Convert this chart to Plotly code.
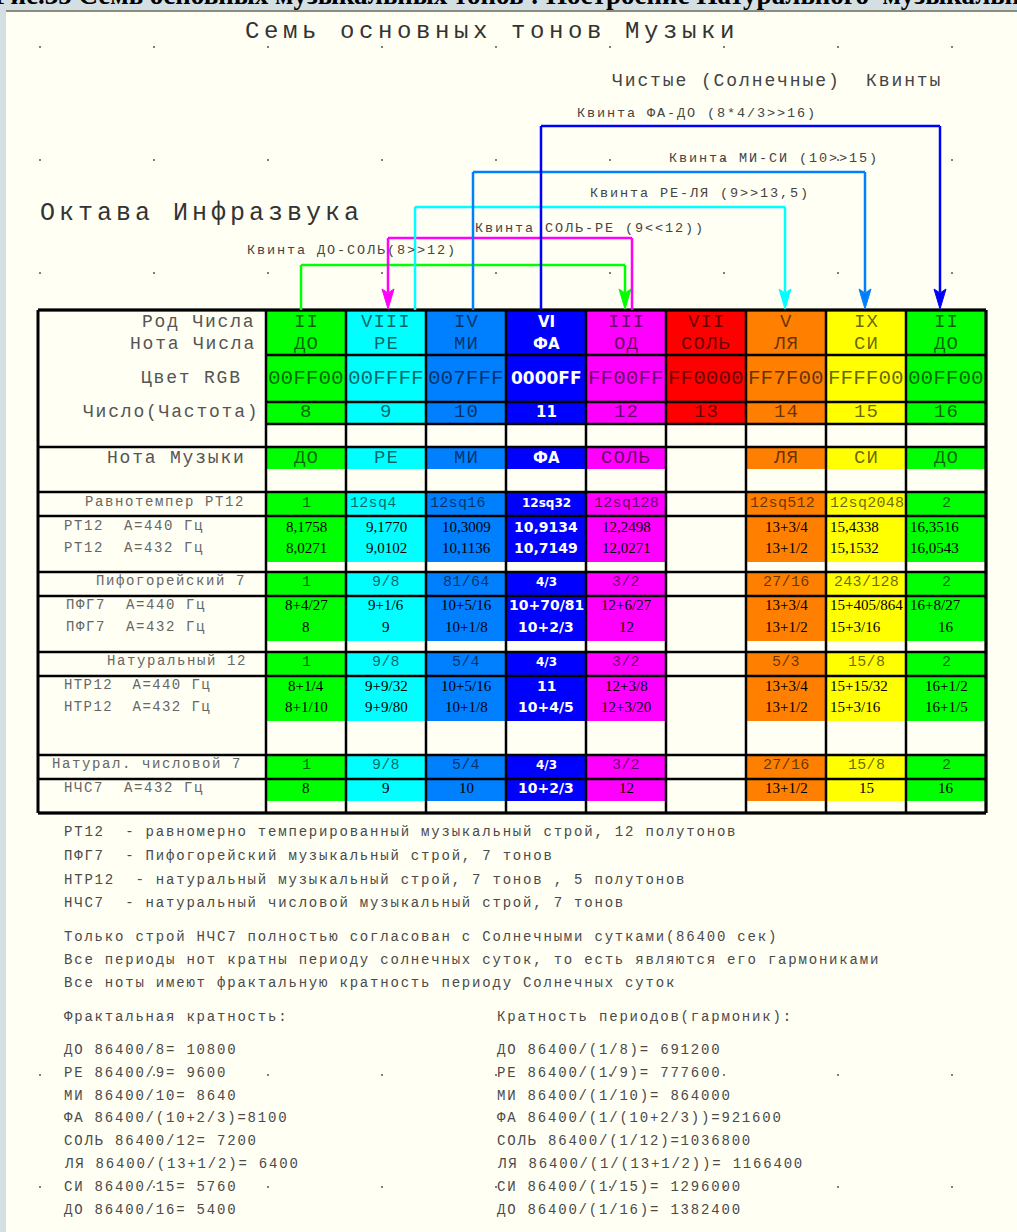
import plotly.graph_objects as go

# ---------------- data ----------------
roman_numerals = ["II", "VIII", "IV", "VI", "III", "VII", "V", "IX", "II"]
number_notes = ["ДО", "РЕ", "МИ", "ФА", "ОД", "СОЛЬ", "ЛЯ", "СИ", "ДО"]
rgb_codes = ["00FF00", "00FFFF", "007FFF", "0000FF", "FF00FF", "FF0000", "FF7F00", "FFFF00", "00FF00"]
frequencies = ["8", "9", "10", "11", "12", "13", "14", "15", "16"]
music_notes = ["ДО", "РЕ", "МИ", "ФА", "СОЛЬ", "", "ЛЯ", "СИ", "ДО"]

rt12_ratio = ["1", "12sq4", "12sq16", "12sq32", "12sq128", "", "12sq512", "12sq2048", "2"]
rt12_440 = ["8,1758", "9,1770", "10,3009", "10,9134", "12,2498", "", "13+3/4", "15,4338", "16,3516"]
rt12_432 = ["8,0271", "9,0102", "10,1136", "10,7149", "12,0271", "", "13+1/2", "15,1532", "16,0543"]
pyth_ratio = ["1", "9/8", "81/64", "4/3", "3/2", "", "27/16", "243/128", "2"]
pfg7_440 = ["8+4/27", "9+1/6", "10+5/16", "10+70/81", "12+6/27", "", "13+3/4", "15+405/864", "16+8/27"]
pfg7_432 = ["8", "9", "10+1/8", "10+2/3", "12", "", "13+1/2", "15+3/16", "16"]
nat_ratio = ["1", "9/8", "5/4", "4/3", "3/2", "", "5/3", "15/8", "2"]
ntr12_440 = ["8+1/4", "9+9/32", "10+5/16", "11", "12+3/8", "", "13+3/4", "15+15/32", "16+1/2"]
ntr12_432 = ["8+1/10", "9+9/80", "10+1/8", "10+4/5", "12+3/20", "", "13+1/2", "15+3/16", "16+1/5"]
nc7_ratio = ["1", "9/8", "5/4", "4/3", "3/2", "", "27/16", "15/8", "2"]
nc7_432 = ["8", "9", "10", "10+2/3", "12", "", "13+1/2", "15", "16"]

quint_labels = ["Квинта ДО-СОЛЬ(8>>12)", "Квинта СОЛЬ-РЕ (9<<12))", "Квинта РЕ-ЛЯ (9>>13,5)",
                "Квинта МИ-СИ (10>>15)", "Квинта ФА-ДО (8*4/3>>16)"]
quint_from = [0, 4, 1, 2, 3]
quint_to = [4, 1, 6, 7, 8]

legend_lines = [
    "РТ12  - равномерно темперированный музыкальный строй, 12 полутонов",
    "ПФГ7  - Пифогорейский музыкальный строй, 7 тонов",
    "НТР12  - натуральный музыкальный строй, 7 тонов , 5 полутонов",
    "НЧС7  - натуральный числовой музыкальный строй, 7 тонов",
]
remark_lines = [
    "Только строй НЧС7 полностью согласован с Солнечными сутками(86400 сек)",
    "Все периоды нот кратны периоду солнечных суток, то есть являются его гармониками",
    "Все ноты имеют фрактальную кратность периоду Солнечных суток",
]
fractal_title = "Фрактальная кратность:"
fractal_lines = ["ДО 86400/8= 10800", "РЕ 86400/9= 9600", "МИ 86400/10= 8640",
                 "ФА 86400/(10+2/3)=8100", "СОЛЬ 86400/12= 7200", "ЛЯ 86400/(13+1/2)= 6400",
                 "СИ 86400/15= 5760", "ДО 86400/16= 5400"]
harmonic_title = "Кратность периодов(гармоник):"
harmonic_lines = ["ДО 86400/(1/8)= 691200", "РЕ 86400/(1/9)= 777600", "МИ 86400/(1/10)= 864000",
                  "ФА 86400/(1/(10+2/3))=921600", "СОЛЬ 86400/(1/12)=1036800",
                  "ЛЯ 86400/(1/(13+1/2))= 1166400", "СИ 86400/(1/15)= 1296000",
                  "ДО 86400/(1/16)= 1382400"]

# ---------------- layout / style ----------------
W, H = 1017, 1232
MONO = "Liberation Mono"
SERIF = "Liberation Serif"
SANS = "DejaVu Sans"
CREAM = "#FFFFF4"
FRAME = "#D3DFE3"
DIM = "rgba(0,0,0,0.6)"

TL, TR = 38, 986           # table left/right
COL0, CW = 266, 80         # first colour column, column width
NC = len(rgb_codes)
col_edges = [COL0 + CW * i for i in range(NC + 1)]
centers = [COL0 + CW * i + CW / 2 for i in range(NC)]
TT, TB = 310, 813

# bands: (top, bottom, fill_bottom, red column filled)
bands = [(310, 355, 355, True), (355, 402, 402, True), (402, 424, 424, True), (424, 447, 424, False),
         (447, 492, 469, False), (492, 516, 516, False), (516, 572, 562, False), (572, 596, 596, False),
         (596, 652, 641, False), (652, 676, 676, False), (676, 755, 721, False), (755, 779, 779, False),
         (779, 813, 801, False)]
data_hlines = [310, 355, 402, 424, 447, 492, 516, 572, 596, 652, 676, 755, 779, 813]
label_hlines = [310, 447, 492, 516, 572, 596, 652, 676, 755, 779, 813]

table_rows = [  # (y, values, kind, alignment)
    (322, roman_numerals, "hdr", None), (344, number_notes, "hdr", None),
    (378, rgb_codes, "hex", None), (412, frequencies, "hdr", None),
    (458, music_notes, "hdr", None),
    (503, rt12_ratio, "ratio", "cllcccllc"), (527, rt12_440, "val", "cccccccll"),
    (548, rt12_432, "val", "cccccccll"),
    (582, pyth_ratio, "ratio", None), (605, pfg7_440, "val", "cccccccll"),
    (627, pfg7_432, "val", "ccccccclc"),
    (662, nat_ratio, "ratio", None), (686, ntr12_440, "val", "ccccccclc"),
    (707, ntr12_432, "val", "ccccccclc"),
    (765, nc7_ratio, "ratio", None), (788, nc7_432, "val", None),
]
kind_style = {  # normal (family, size, spacing), dark column (family, size)
    "hdr": ((MONO, 19, 1.0), (SANS, 15)),
    "hex": ((MONO, 21, 0.0), (SANS, 17)),
    "ratio": ((MONO, 15, 0.3), (SANS, 12)),
    "val": ((SERIF, 15, 0.0), (SANS, 14)),
}

row_labels = [  # text, x, y, anchor, size, spacing
    ("Род Числа", 257, 322, "right", 18, 1.8),
    ("Нота Числа", 258, 344, "right", 18, 1.8),
    ("Цвет RGB", 244, 378, "right", 18, 1.8),
    ("Число(Частота)", 261, 412, "right", 18, 1.8),
    ("Нота Музыки", 248, 458, "right", 18, 1.8),
    ("Равнотемпер РТ12", 247, 502, "right", 14, 1.6),
    ("РТ12  А=440 Гц", 62, 526, "left", 14, 1.6),
    ("РТ12  А=432 Гц", 62, 548, "left", 14, 1.6),
    ("Пифогорейский 7", 248, 581, "right", 14, 1.6),
    ("ПФГ7  А=440 Гц", 64, 605, "left", 14, 1.6),
    ("ПФГ7  А=432 Гц", 64, 627, "left", 14, 1.6),
    ("Натуральный 12", 249, 661, "right", 14, 1.6),
    ("НТР12  А=440 Гц", 62, 685, "left", 14, 1.4),
    ("НТР12  А=432 Гц", 62, 707, "left", 14, 1.4),
    ("Натурал. числовой 7", 244, 764, "right", 14, 1.6),
    ("НЧС7  А=432 Гц", 62, 788, "left", 14, 1.6),
]

quint_level = [265, 238, 207, 172, 126]
quint_x_from = [301, 632, 415, 473, 541]
quint_x_to = [625, 388, 785, 865, 940]
quint_label_x = [245, 473, 588, 667, 575]
quint_label_y = [250, 228, 193, 158, 113]

dot_x = [40, 154, 268, 382, 496, 610, 724, 838, 952]
dot_y = [47, 160, 273, 1075, 1187]


def esc(s):
    return s.replace("&", "&amp;").replace("<", "&lt;").replace(">", "&gt;")


shapes = []
annotations = []


def rect(x0, y0, x1, y1, color):
    shapes.append(dict(type="rect", xref="x", yref="y", x0=x0, y0=y0, x1=x1, y1=y1,
                       fillcolor=color, line=dict(width=0), layer="below"))


def line(x0, y0, x1, y1, color="black", width=2.5, layer="above"):
    shapes.append(dict(type="line", xref="x", yref="y", x0=x0, y0=y0, x1=x1, y1=y1,
                       line=dict(color=color, width=width), layer=layer))


def text(x, y, s, size, color, family=MONO, anchor="center", ls=0.0, bold=False, yanchor="middle"):
    t = esc(s)
    if ls:
        t = f'<span style="letter-spacing:{ls}px">{t}</span>'
    annotations.append(dict(x=x, y=y, xref="x", yref="y", text=t, showarrow=False,
                            xanchor=anchor, yanchor=yanchor,
                            font=dict(family=family, size=size, color=color,
                                      weight="bold" if bold else "normal")))


# page background
rect(6, 11, W, H, CREAM)
line(6, 11, W, 11, "#8C8C7C", 2)
annotations.append(dict(x=0, y=0, xref="x", yref="y", xanchor="left", yanchor="middle",
                        xshift=-8, yshift=5, showarrow=False,
                        text="Рис.35 Семь основных музыкальных тонов : Построение Натурального  музыкального строя",
                        font=dict(family=SERIF, size=27, color="black", weight="bold")))

# table fills
for i, code in enumerate(rgb_codes):
    for (top, bot, fbot, red_ok) in bands:
        if fbot <= top:
            continue
        if code == "FF0000" and not red_ok:
            continue
        rect(col_edges[i], top, col_edges[i + 1], fbot, "#" + code)

# table grid
for y in data_hlines:
    line(COL0, y, TR, y)
for y in label_hlines:
    line(TL, y, COL0, y)
for x in col_edges:
    line(x, TT, x, TB)
line(TL, TT, TL, TB, width=3)
line(TR, TT, TR, TB, width=3)
line(TL, TT, TR, TT, width=3)
line(TL, TB, TR, TB, width=3)

# cell text
for (y, vals, kind, align) in table_rows:
    (fam, size, ls), (dfam, dsize) = kind_style[kind]
    for i, v in enumerate(vals):
        if not v:
            continue
        a = align[i] if align else "c"
        x = centers[i] if a == "c" else col_edges[i] + 2
        anchor = "center" if a == "c" else "left"
        if rgb_codes[i] == "0000FF":
            text(x, y, v, dsize, "white", family=dfam, anchor=anchor, bold=True)
        else:
            color = "black" if kind == "val" else DIM
            text(x, y, v, size, color, family=fam, anchor=anchor, ls=ls)

for (s, x, y, anchor, size, ls) in row_labels:
    text(x, y, s, size, "#555555" if size > 15 else "#666666", anchor=anchor, ls=ls)

# quint arrows
for k in range(len(quint_labels)):
    c = "#" + rgb_codes[quint_from[k]]
    yl = quint_level[k]
    xf, xt = quint_x_from[k], quint_x_to[k]
    line(xf, yl, xf, TT, c, 2.5)
    line(xf, yl, xt, yl, c, 2.5)
    line(xt, yl, xt, 292, c, 2.5)
    shapes.append(dict(type="path", xref="x", yref="y",
                       path=f"M {xt-6},{289} L {xt},{293} L {xt+6},{289} L {xt},{309} Z",
                       fillcolor=c, line=dict(color=c, width=1), layer="above"))
    text(quint_label_x[k], quint_label_y[k], quint_labels[k], 13.5, "#444444", anchor="left", ls=1.9)

# headings
text(492, 31, "Семь основных тонов Музыки", 24, "#333333", ls=4.6)
text(38, 213, "Октава Инфразвука", 25, "#333333", anchor="left", ls=4.0)
text(610, 81, "Чистые (Солнечные)  Квинты", 18, "#444444", anchor="left", ls=1.9)

# notes below
for j, s in enumerate(legend_lines):
    text(62, [832, 856, 880, 903][j], s, 14, "#4a4a4a", anchor="left", ls=1.8)
for j, s in enumerate(remark_lines):
    text(62, [937, 960, 983][j], s, 14, "#4a4a4a", anchor="left", ls=1.8)
list_y = [1050, 1073, 1096, 1118, 1141, 1164, 1187, 1210]
text(62, 1017, fractal_title, 14, "#4a4a4a", anchor="left", ls=1.8)
text(495, 1017, harmonic_title, 14, "#4a4a4a", anchor="left", ls=1.8)
for j, s in enumerate(fractal_lines):
    text(62, list_y[j], s, 14, "#4a4a4a", anchor="left", ls=1.8)
for j, s in enumerate(harmonic_lines):
    text(495, list_y[j], s, 14, "#4a4a4a", anchor="left", ls=1.8)

# faint grid dots
gx, gy = [], []
for yy in dot_y:
    for xx in dot_x:
        gx.append(xx)
        gy.append(yy)

fig = go.Figure(go.Scatter(x=gx, y=gy, mode="markers", hoverinfo="skip",
                           marker=dict(size=2, color="#555555")))
fig.update_layout(
    width=W, height=H, margin=dict(l=0, r=0, t=0, b=0, pad=0),
    paper_bgcolor=FRAME, plot_bgcolor=FRAME, showlegend=False, hovermode=False,
    xaxis=dict(range=[0, W], visible=False, fixedrange=True),
    yaxis=dict(range=[H, 0], visible=False, fixedrange=True),
    shapes=shapes, annotations=annotations,
)
fig.write_html("out.html", config={"displayModeBar": False},
               post_script="document.body.style.margin='0px';document.body.style.padding='0px';"
                           "document.body.style.background='" + FRAME + "';")
